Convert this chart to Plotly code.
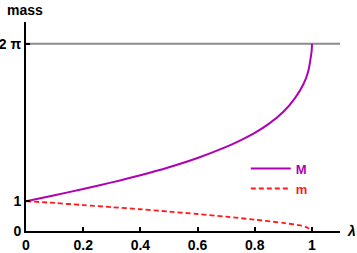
import plotly.graph_objects as go
import math

lam = [0, 0.1, 0.2, 0.3, 0.4, 0.5, 0.6, 0.7, 0.75, 0.8, 0.85, 0.9, 0.94, 0.97, 0.987, 0.995, 0.999, 1.0]
M_vals = [1.0, 1.2, 1.41, 1.63, 1.87, 2.14, 2.45, 2.82, 3.04, 3.29, 3.6, 4.0, 4.45, 4.92, 5.36, 5.78, 6.05, 6.283]
lam_m = [0, 0.1, 0.2, 0.3, 0.4, 0.5, 0.6, 0.7, 0.8, 0.9, 0.95, 0.98, 1.0]
m_vals = [1.0, 0.94, 0.87, 0.8, 0.73, 0.65, 0.57, 0.48, 0.38, 0.27, 0.2, 0.13, 0.0]
x_ticks = [0, 0.2, 0.4, 0.6, 0.8, 1]
x_tick_text = ["0", "0.2", "0.4", "0.6", "0.8", "1"]
y_ticks = [0, 1, 2 * math.pi]
y_tick_text = ["0", "1", "2 π"]

PURPLE = "#b000b4"
RED = "#ff1a1a"
font = dict(family="Liberation Sans, Arial, sans-serif", size=14, color="black")

fig = go.Figure()
fig.add_shape(type="line", xref="paper", x0=0, x1=1, yref="y", y0=2 * math.pi, y1=2 * math.pi,
              line=dict(color="#8c8c8c", width=2), layer="below")
fig.add_trace(go.Scatter(x=lam, y=M_vals, mode="lines",
                         line=dict(color=PURPLE, width=2, shape="spline", smoothing=0.8),
                         name="<b><span style='color:%s'>M</span></b>" % PURPLE))
fig.add_trace(go.Scatter(x=lam_m, y=m_vals, mode="lines",
                         line=dict(color=RED, width=1.8, dash="5px,3px", shape="spline", smoothing=0.8),
                         name="<b><span style='color:%s'>m</span></b>" % RED))

fig.update_layout(
    width=357, height=253,
    margin=dict(l=26, r=17, t=22, b=22, autoexpand=False),
    paper_bgcolor="white", plot_bgcolor="white",
    font=font,
    showlegend=True,
    legend=dict(x=0.70, y=0.37, xanchor="left", yanchor="top", bgcolor="rgba(0,0,0,0)",
                font=dict(size=13), itemwidth=40, tracegroupgap=0),
    xaxis=dict(range=[0, 1.098], automargin=False, showgrid=False, zeroline=False, showline=True,
               linecolor="black", linewidth=2,
               ticks="inside", ticklen=4, tickwidth=1.5, tickcolor="black",
               tickvals=x_ticks, ticktext=["<b>%s</b>" % t for t in x_tick_text]),
    yaxis=dict(range=[0, 7.01], automargin=False, showgrid=False, zeroline=False, showline=True,
               linecolor="black", linewidth=2,
               ticks="inside", ticklen=4, tickwidth=1.5, tickcolor="black",
               tickvals=y_ticks, ticktext=["<b>%s</b>" % t for t in y_tick_text]),
    annotations=[
        dict(text="<b>mass</b>", xref="paper", yref="paper", x=-0.003, y=1.057, showarrow=False,
             xanchor="center", yanchor="middle", font=dict(size=14)),
        dict(text="<b><i>λ</i></b>", xref="paper", yref="paper", x=1.038, y=0.0, showarrow=False,
             xanchor="center", yanchor="middle", font=dict(size=14)),
    ],
)
fig.write_html("out.html", config={"displayModeBar": False},
               post_script="document.body.style.margin='0';document.body.style.overflow='hidden';")
